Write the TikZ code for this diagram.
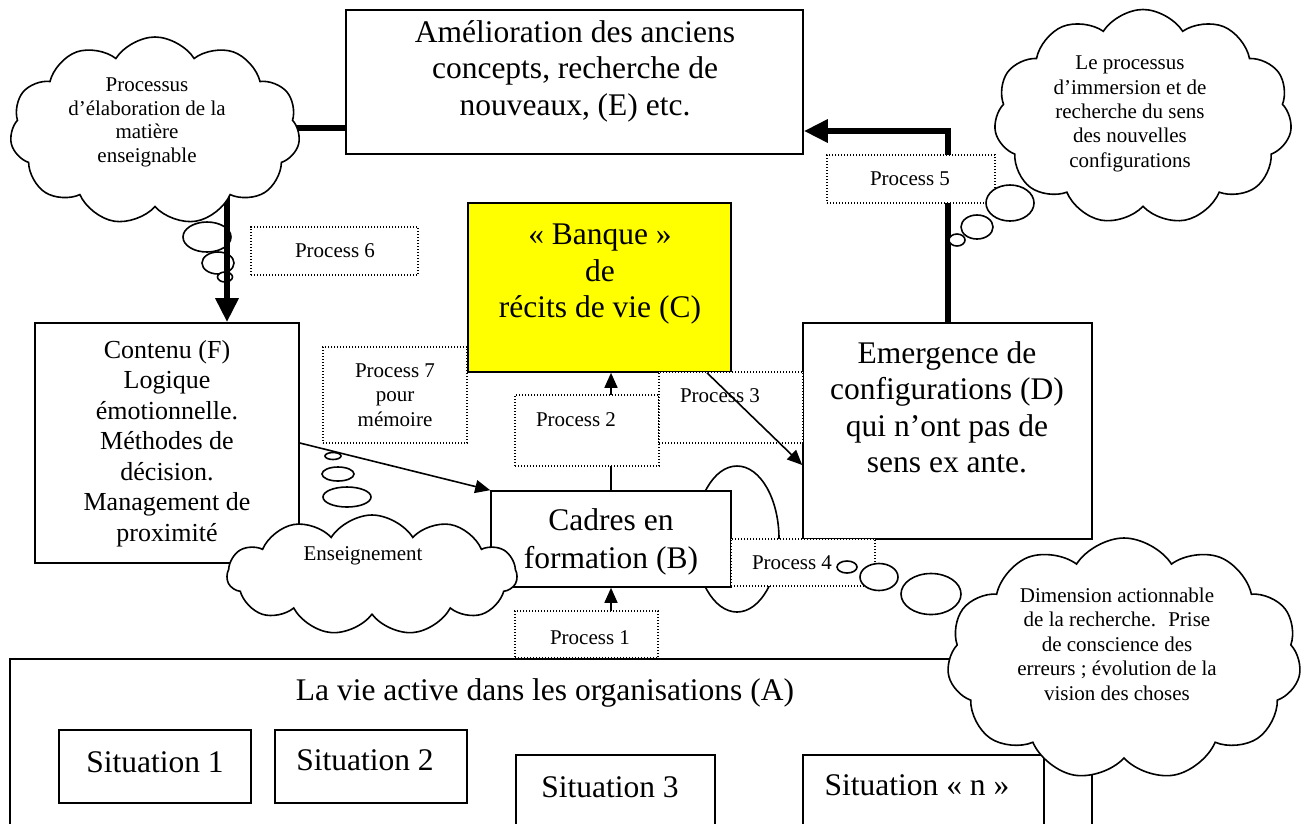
\documentclass[tikz,border=0pt]{standalone}
\usepackage{fontspec}
\setmainfont{Liberation Serif}
\usetikzlibrary{arrows.meta,shapes.geometric,shapes.symbols,fit}
\begin{document}
\begin{tikzpicture}[x=1pt,y=-1pt,
  box/.style={draw, line width=1.6pt, fill=white, inner sep=0pt},
  pbox/.style={draw, line width=1.4pt, dash pattern=on 1.4pt off 1.6pt, fill=white, inner sep=0pt},
  txtL/.style={font=\fontsize{31.5}{36.5}\selectfont, align=center, inner sep=0pt},
  txtB/.style={font=\fontsize{31.5}{38}\selectfont, align=center, inner sep=0pt},
  txtM/.style={font=\fontsize{26}{30.5}\selectfont, align=center, inner sep=0pt},
  txtS/.style={font=\fontsize{21}{24.5}\selectfont, align=center, inner sep=0pt},
  cloudy/.style={cloud, cloud puffs=11, cloud puff arc=115, draw, line width=1.6pt, fill=white, inner sep=0pt},
  bubble/.style={ellipse, draw, line width=1.6pt, fill=white, inner sep=0pt},
  slimarrow/.style={line width=1.6pt, -{Triangle[length=15pt,width=13pt]}},
  fatarrow/.style={line width=6pt, line join=miter, -{Triangle[length=24pt,width=22pt]}},
  fatline/.style={line width=6pt},
]
\useasboundingbox (0,0) rectangle (1316,823);
\clip (0,0) rectangle (1316,823);

% A and situations
\node[box, fit={(10,659) (1092,840)}] (A) {};
\node[txtL, anchor=base] (At) at (545,700) {La vie active dans les organisations (A)};
\node[box, fit={(59,730) (251,803)}] (S1) {};
\node[txtL, anchor=base] (S1t) at (155,772) {Situation 1};
\node[box, fit={(275,730) (467,803)}] (S2) {};
\node[txtL, anchor=base] (S2t) at (365,770) {Situation 2};
\node[box, fit={(516,755) (715,840)}] (S3) {};
\node[txtL, anchor=base] (S3t) at (610,797) {Situation 3};
\node[box, fit={(803,755) (1044,840)}] (Sn) {};
\node[txtL, anchor=base] (Snt) at (917,795) {Situation «~n~»};

% loop ellipse around B
\node[bubble, minimum width=84pt, minimum height=146pt] (loop) at (737,539) {};

% main boxes
\node[box, fit={(346,10) (803,154)}] (E) {};
\node[txtL] (Et) at (575,71.2) {\strut Amélioration des anciens\\\strut concepts, recherche de\\\strut nouveaux, (E) etc.};
\node[box, fit={(35,323) (299,563)}] (F) {};
\node[txtM] (Ft) at (167,443.4) {\strut Contenu (F)\\\strut Logique\\\strut émotionnelle.\\\strut Méthodes de\\\strut décision.\\\strut Management de\\\strut proximité};
\node[box, fill={rgb,255:red,255;green,255;blue,0}, fit={(468,203) (731,372)}] (C) {};
\node[txtL] (Ct) at (600,273.7) {\strut «~Banque~»\\\strut de\\\strut récits de vie (C)};
\node[box, fit={(491,491) (731,587)}] (B) {};
\node[txtB] (Bt) at (611,541.4) {\strut Cadres en\\\strut formation (B)};

% thin arrows
\draw[slimarrow] (B.north) -- (C.south -| B.north);
\draw[slimarrow] (A.north -| B.south) -- (B.south);
\draw[slimarrow] (F.east |- 0,443) -- (B.north west);

% left bubbles (under the thick line)
\node[bubble, minimum width=48pt, minimum height=30pt] (lb1) at (207,237) {};
\node[bubble, minimum width=32pt, minimum height=22pt] (lb2) at (218,263) {};
\node[bubble, minimum width=15pt, minimum height=10pt] (lb3) at (225,277) {};

% D box
\node[box, fit={(803,323) (1092,539)}] (D) {};

% thick connectors
\coordinate (lcin) at (227,180);
\coordinate (lcside) at (250,128);
\draw[fatarrow] (lcin) -- (F.north -| lcin);
\draw[fatline] (lcside) -- (E.west |- lcside);
\draw[fatarrow] (D.north) |- (E.east |- 0,131);

% process boxes
\node[pbox, fit={(515,611) (658,658)}] (P1) {};
\node[txtS, anchor=base] (P1t) at (590,644) {Process 1};
\node[pbox, fit={(515,395) (659,466)}] (P2) {};
\node[txtS, anchor=base] (P2t) at (576,426) {Process 2};
\node[pbox, fit={(659,372) (803,443)}] (P3) {};
\node[txtS, anchor=base] (P3t) at (720,402) {Process 3};
\node[pbox, fit={(731,539) (875,586)}] (P4) {};
\node[txtS, anchor=base] (P4t) at (792,569) {Process 4};
\node[pbox, fit={(827,155) (995,203)}] (P5) {};
\node[txtS, anchor=base] (P5t) at (910,185) {Process 5};
\node[pbox, fit={(251,227) (418,275)}] (P6) {};
\node[txtS, anchor=base] (P6t) at (335,257) {Process 6};
\node[pbox, fit={(323,347) (467,443)}] (P7) {};
\node[txtS] (P7t) at (395,396.6) {\strut Process 7\\\strut pour\\\strut mémoire};

% D text and C->D arrow
\node[txtL] (Dt) at (947,410.7) {\strut Emergence de\\\strut configurations (D)\\\strut qui n’ont pas de\\\strut sens ex ante.};
\draw[slimarrow] (C.south -| 707,0) -- (D.west |- 0,465);

% clouds
\node[cloudy, minimum width=290pt, minimum height=188pt] (LC) at (155,131) {};
\node[txtS, font=\fontsize{21}{23.5}\selectfont] (LCt) at (147,122.3) {\strut Processus\\\strut d’élaboration de la\\\strut matière\\\strut enseignable};
\node[cloudy, minimum width=298pt, minimum height=215pt] (RC) at (1143,117) {};
\node[txtS, font=\fontsize{21}{24.3}\selectfont] (RCt) at (1130,113.6) {\strut Le processus\\\strut d’immersion et de\\\strut recherche du sens\\\strut des nouvelles\\\strut configurations};
\node[cloudy, minimum width=290pt, minimum height=120pt] (EC) at (372,575) {};
\node[txtS, anchor=base] (ECt) at (363,560) {Enseignement};
\node[cloudy, minimum width=354pt, minimum height=242pt] (DC) at (1124,659) {};
\node[txtS] (DCt) at (1117,646.1) {\strut Dimension actionnable\\\strut de la recherche.~ Prise\\\strut de conscience des\\\strut erreurs ; évolution de la\\\strut vision des choses};

% other bubbles
\node[bubble, minimum width=48pt, minimum height=36pt] (rb1) at (1010,203) {};
\node[bubble, minimum width=32pt, minimum height=24pt] (rb2) at (977,227) {};
\node[bubble, minimum width=16pt, minimum height=12pt] (rb3) at (957,240) {};
\node[bubble, minimum width=16pt, minimum height=7pt] (eb1) at (333,456) {};
\node[bubble, minimum width=32pt, minimum height=14pt] (eb2) at (338,474) {};
\node[bubble, minimum width=48pt, minimum height=20pt] (eb3) at (347,497) {};
\node[bubble, minimum width=20pt, minimum height=12pt] (db1) at (847,567) {};
\node[bubble, minimum width=38pt, minimum height=27pt] (db2) at (879,577) {};
\node[bubble, minimum width=60pt, minimum height=41pt] (db3) at (931,594) {};
\end{tikzpicture}
\end{document}
